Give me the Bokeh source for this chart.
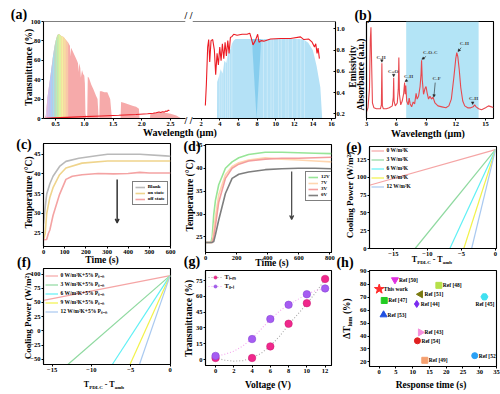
import math
from bokeh.plotting import figure
from bokeh.models import (Range1d, Label, Legend, LegendItem, Span, Arrow, VeeHead,
                          NormalHead, PrintfTickFormatter, ColumnDataSource, Div)
from bokeh.layouts import row, column
from bokeh.embed import file_html
from bokeh.resources import INLINE
from bokeh.core.properties import value

FONT = "Liberation Serif"

# ======================= DATA =======================
solar_wl = [0.30, 0.33, 0.36, 0.39, 0.42, 0.45, 0.48, 0.50, 0.53, 0.56, 0.60, 0.64, 0.68, 0.72, 0.75,
            0.76, 0.77, 0.80, 0.84, 0.87, 0.89, 0.90, 0.91, 0.93, 0.94, 0.96, 0.98, 1.00, 1.01, 1.02,
            1.04, 1.05, 1.06, 1.08, 1.12, 1.16, 1.20, 1.23, 1.25, 1.26, 1.27, 1.30, 1.35, 1.40, 1.45,
            1.48, 1.63, 1.64, 1.70, 1.75, 1.80, 1.85, 1.90, 1.95, 1.96, 2.14, 2.15, 2.20, 2.30, 2.40,
            2.50, 2.60, 2.69]
solar_t = [0, 3, 22, 35, 48, 62, 74, 80, 86, 87, 85, 84, 81, 78, 75,
           64, 73, 69, 64, 60, 57, 48, 57, 52, 42, 50, 46, 44, 36, 5,
           0, 0, 43, 42, 35, 30, 24, 20, 0, 0, 28, 28, 27, 27, 20,
           0, 0, 17, 16, 15, 14, 13, 12, 10, 0, 0, 5, 6, 6, 6,
           5, 3, 0]
rainbow_edges = [0.33, 0.36, 0.39, 0.42, 0.45, 0.48, 0.50, 0.53, 0.56, 0.60, 0.64, 0.68, 0.72]
film_wl = [0.33, 0.45, 0.70, 1.00, 1.30, 1.60, 1.90, 2.10, 2.20, 2.25, 2.30, 2.33, 2.36, 2.39, 2.42, 2.44, 2.46, 2.48]
film_t = [0.3, 0.6, 1.2, 1.9, 2.6, 3.3, 4.2, 4.9, 5.4, 5.9, 6.8, 6.2, 7.0, 6.6, 7.8, 7.2, 8.6, 8.2]

atm_wl = [3.70, 3.72, 3.90, 4.10, 4.30, 4.50, 4.70, 4.90, 5.10, 5.30, 5.50, 5.70, 7.30, 9.00, 12.50,
          13.00, 13.50, 14.00, 14.40, 14.80, 15.00]
atm_e = [0.157, 0.50, 0.55, 0.62, 0.58, 0.70, 0.68, 0.78, 0.80, 0.86, 0.89, 0.905, 0.905, 0.905, 0.905,
         0.90, 0.87, 0.80, 0.65, 0.45, 0.157]
atm_v_wl = [7.45, 7.95, 8.45]
atm_v_low = [0.905, 0.157, 0.905]
atm_v_high = [0.905, 0.905, 0.905]
atm_gap_wl = [3.95, 4.15, 4.35, 4.62, 4.85, 5.05, 5.30, 8.70, 9.10, 9.50, 9.75, 10.30, 10.60,
              11.10, 11.35, 11.80, 12.30, 12.70, 13.10]
emis_wl = [2.45, 2.56, 2.70, 2.81, 2.92, 3.06, 3.24, 3.42, 3.56, 3.71, 3.85, 4.00, 4.14, 4.28, 4.43,
           4.57, 4.71, 4.86, 5.00, 5.14, 5.32, 5.50, 5.86, 6.40, 6.93, 7.22, 7.36, 7.57, 7.82, 8.07,
           8.21, 8.44, 8.73, 9.45, 10.52, 11.60, 12.67, 13.03, 13.56, 13.92, 14.17, 14.31, 14.45, 14.56, 14.70]
emis_e = [0.28, 0.48, 0.83, 0.90, 0.69, 0.89, 0.90, 0.80, 0.57, 0.77, 0.66, 0.83, 0.70, 0.86, 0.72,
          0.875, 0.745, 0.89, 0.77, 0.92, 0.93, 0.95, 0.94, 0.95, 0.95, 0.96, 0.92, 0.85, 0.89, 0.95,
          0.875, 0.89, 0.885, 0.905, 0.91, 0.91, 0.925, 0.90, 0.905, 0.875, 0.83, 0.86, 0.77, 0.82, 0.72]

ftir_wl = [3.00, 3.15, 3.30, 3.38, 3.45, 3.52, 3.60, 3.75, 4.00, 4.40, 4.50, 4.55, 4.60, 4.70, 5.00,
           5.30, 5.60, 5.70, 5.74, 5.78, 5.90, 6.10, 6.20, 6.26, 6.32, 6.45, 6.60, 6.75, 6.84, 6.90,
           6.96, 7.05, 7.20, 7.30, 7.40, 7.55, 7.70, 7.85, 8.00, 8.10, 8.25, 8.40, 8.50, 8.55, 8.62,
           8.75, 8.90, 9.00, 9.10, 9.25, 9.40, 9.55, 9.70, 9.90, 10.20, 10.60, 11.00, 11.30, 11.55, 11.80,
           12.00, 12.10, 12.20, 12.35, 12.50, 12.70, 12.90, 13.20, 13.50, 13.75, 13.90, 14.05, 14.30, 14.60, 15.00,
           15.30, 15.60, 15.80]
ftir_abs = [0.07, 0.11, 0.30, 0.80, 0.94, 0.55, 0.16, 0.11, 0.10, 0.10, 0.14, 0.57, 0.13, 0.10, 0.10,
            0.11, 0.13, 0.22, 0.42, 0.18, 0.13, 0.16, 0.30, 0.63, 0.25, 0.14, 0.18, 0.26, 0.37, 0.25,
            0.34, 0.18, 0.14, 0.21, 0.15, 0.12, 0.17, 0.15, 0.26, 0.20, 0.23, 0.33, 0.46, 0.60, 0.40,
            0.25, 0.31, 0.33, 0.27, 0.20, 0.23, 0.20, 0.22, 0.16, 0.13, 0.12, 0.11, 0.13, 0.20, 0.42,
            0.62, 0.68, 0.64, 0.50, 0.32, 0.18, 0.13, 0.11, 0.11, 0.12, 0.14, 0.12, 0.10, 0.09, 0.11,
            0.13, 0.12, 0.11]
window_band = [7.0, 14.3]
bond_text = ["C-H", "C=O", "C-H", "C-O-C", "C-F", "C-H", "C-H"]
bond_label_x = [4.46, 5.69, 7.23, 9.43, 10.06, 12.86, 13.78]
bond_label_y = [0.63, 0.488, 0.433, 0.68, 0.41, 0.77, 0.21]
bond_peak_x = [4.55, 5.74, 6.88, 8.58, 9.79, 12.22, 13.70]
bond_peak_y = [0.58, 0.43, 0.38, 0.61, 0.22, 0.69, 0.145]

c_t_blank = [0, 8, 15, 30, 45, 76, 106, 167, 258, 303, 455, 576, 600]
c_blank = [27.3, 31.5, 34.8, 37.5, 39.4, 41.9, 43.2, 44.0, 44.7, 45.0, 45.0, 44.6, 44.5]
c_t_on = [0, 8, 15, 30, 45, 76, 106, 182, 303, 455, 600]
c_on = [23.2, 24.8, 29.8, 34.0, 36.5, 39.8, 41.5, 42.75, 43.3, 43.3, 43.3]
c_t_off = [0, 15, 23, 30, 45, 76, 106, 136, 182, 258, 330, 400, 455, 500, 600]
c_off = [23.2, 23.3, 24.8, 25.7, 29.4, 34.8, 38.6, 39.4, 39.8, 40.1, 40.0, 40.1, 40.4, 40.25, 40.25]
c_arrow = [348, 38.6, 27.5]

d_time = [0, 35, 43, 53, 64, 85, 128, 171, 214, 277, 384, 490, 597, 704, 810]
d_12v = [23.8, 23.8, 25.0, 29.9, 33.0, 36.4, 40.0, 41.4, 42.3, 43.0, 43.5, 43.5, 43.4, 43.3, 43.2]
d_7v = [23.8, 23.8, 23.8, 26.5, 29.5, 34.2, 38.6, 40.4, 41.2, 41.8, 42.3, 42.0, 41.8, 41.6, 41.4]
d_3v = [23.8, 23.8, 23.8, 25.0, 27.5, 32.6, 37.8, 40.0, 40.9, 41.6, 42.0, 42.2, 42.2, 42.3, 42.4]
d_0v = [23.8, 23.8, 23.8, 24.0, 25.5, 28.7, 34.5, 37.8, 38.7, 39.2, 39.7, 39.9, 40.0, 40.0, 39.9]
d_arrow = [554, 39.3, 28.8]

e_labels = ["0 W/m²K", "3 W/m²K", "6 W/m²K", "9 W/m²K", "12 W/m²K"]
e_x_start = [-18.5, -11.8, -6.7, -4.65, -3.5]
e_y_start = [89, 0, 0, 0, 0]
e_x_end = [0, 0, 0, 0, 0]
e_y_end = [139, 139, 139, 139, 139]

f_labels = ["0 W/m²K+5% Pₛᵤₙ", "3 W/m²K+5% Pₛᵤₙ", "6 W/m²K+5% Pₛᵤₙ", "9 W/m²K+5% Pₛᵤₙ", "12 W/m²K+5% Pₛᵤₙ"]
f_x_start = [-16.1, -13.0, -7.35, -5.1, -3.9]
f_y_start = [53.7, -59.3, -59.3, -59.3, -59.3]
f_x_end = [0, 0, 0, 0, 0]
f_y_end = [97.3, 97.3, 97.3, 97.3, 97.3]

voltage = [0, 4, 6, 8, 10, 12]
t_lum = [1.5, 1.5, 12.5, 34.0, 53.5, 76.5]
t_sol = [3.5, 19.5, 38.5, 52.0, 62.0, 67.5]
fit_v = [0, 1, 2, 3, 4, 5, 6, 7, 8, 9, 10, 11, 12]
fit_lum = [1.5, -0.5, -1.5, -1.0, 1.5, 6.0, 13.0, 22.0, 33.0, 43.0, 53.0, 64.0, 76.0]
fit_sol = [3.0, 5.0, 8.0, 13.0, 20.0, 29.0, 38.0, 46.0, 52.0, 57.0, 62.0, 65.5, 67.5]

h_names = ["This work", "Ref [50]", "Ref [48]", "Ref [51]", "Ref [47]", "Ref [45]",
           "Ref [44]", "Ref [53]", "Ref [43]", "Ref [54]", "Ref [52]", "Ref [49]"]
h_time = [0.0, 4.7, 17.8, 12.3, 1.5, 31.4, 11.2, 1.3, 12.3, 11.4, 28.5, 13.6]
h_dtlum = [76.3, 83.5, 79.2, 72.3, 67.5, 70.3, 64.8, 56.4, 42.8, 36.3, 24.8, 21.2]

# ======================= STYLE =======================
RAINBOW = ["#dccaf0", "#cdbff2", "#bcc6f4", "#aacff5", "#a6ddee", "#a9e7d6",
           "#b6ecbc", "#c8f0a8", "#def2a0", "#f3f0a0", "#f8dca2", "#f9c8a8"]
h_marker = ["star", "inverted_triangle", "square", "triangle", "square", "hex",
            "diamond", "triangle", "triangle", "circle", "circle", "square"]
h_angle = [0, 0, 0, math.pi / 2, 0, 0, 0, 0, -math.pi / 2, 0, 0, 0]
h_color = ["#ff2a2a", "#e030e0", "#b6e04a", "#7a7a10", "#22cc22", "#40e0f0",
           "#7a2af0", "#2050e0", "#f590dc", "#e02020", "#2aa0f5", "#f5a070"]
h_size = [10, 7, 6, 7, 6, 7, 7, 7, 7, 6, 6, 6]
h_dx = [4.5, 4, 4, 4, 4, -9, 4, 4, 4, 4, 4, 4]
h_dy = [0, 0, 0, 0, 0, 7, 0, 0, 0, 0, 0, 0]
E_COLORS = ["#f5a5a5", "#8fd9a0", "#5ff0f5", "#f2f24a", "#a9c9f0"]

DIVS = []


def make_panel(canvas, frame, xr, yr, yloc="left", outline=True):
    cx0, cy0, cx1, cy1 = canvas
    fx0, fy0, fx1, fy1 = frame
    W, H = int(cx1 - cx0), int(cy1 - cy0)
    p = figure(width=W, height=H, x_range=Range1d(*xr), y_range=Range1d(*yr),
               output_backend="svg", toolbar_location=None,
               min_border_left=int(round(fx0 - cx0)), min_border_right=int(round(cx1 - fx1)),
               min_border_top=int(round(fy0 - cy0)), min_border_bottom=int(round(cy1 - fy1)),
               y_axis_location=yloc)
    p.xgrid.visible = False
    p.ygrid.visible = False
    p.outline_line_color = "black" if outline else None
    p.outline_line_width = 1.1
    p.background_fill_color = "white"
    p.border_fill_color = "white"
    for ax in p.axis:
        ax.major_label_text_font = FONT
        ax.major_label_text_font_size = "6.5px"
        ax.major_label_text_font_style = "bold"
        ax.major_label_text_color = "black"
        ax.axis_line_color = "black"
        ax.axis_line_width = 1.1
        ax.major_tick_line_color = "black"
        ax.major_tick_line_width = 1
        ax.major_tick_out = 2
        ax.major_tick_in = 0
        ax.minor_tick_line_color = None
        ax.major_label_standoff = 1
    return p, dict(p=p, canvas=canvas, frame=frame)


def add_legend(pan, items, left, top, row_px, font_px, glyph_w, standoff, padding, border):
    fx0, fy0, fx1, fy1 = pan["frame"]
    n = len(items)
    height = n * row_px + 2 * padding
    lg = Legend(items=items, location=(left - fx0, (fy1 - top) - height), orientation="vertical",
                label_text_font=FONT, label_text_font_size="%.1fpx" % font_px,
                label_text_font_style="bold", label_text_color="black",
                glyph_width=glyph_w, glyph_height=row_px, label_height=row_px, label_width=0,
                spacing=0, padding=padding, margin=0, label_standoff=standoff,
                border_line_color="black" if border else None, border_line_width=0.8,
                background_fill_color="white", background_fill_alpha=1.0 if border else 0.0)
    pan["p"].add_layout(lg)


def page_text(html, cx, cy, size, w, rotate=False):
    h = int(size * 1.8)
    st = {"position": "absolute", "left": "%.1fpx" % (cx - w / 2.0),
          "top": "%.1fpx" % (cy - h / 2.0), "font-family": "'Liberation Serif', serif",
          "font-weight": "bold", "font-size": "%.1fpx" % size,
          "line-height": "%dpx" % h, "text-align": "center",
          "white-space": "nowrap", "color": "black", "z-index": "5",
          "pointer-events": "none", "overflow": "visible"}
    if rotate:
        st["transform"] = "rotate(-90deg)"
    DIVS.append(Div(text=html, width=w, height=h, margin=0, styles=st))


# ---- (a) left ----
aL, paL = make_panel((0, 0, 188, 138), (43, 16, 185, 121), (0.29, 2.76), (0, 100), outline=False)
aL.varea(x=solar_wl, y1=0, y2=solar_t, fill_color="#f6aaaa")
for i in range(len(rainbow_edges) - 1):
    lo, hi = rainbow_edges[i] - 1e-9, rainbow_edges[i + 1] + 1e-9
    xs = [w for w in solar_wl if lo <= w <= hi]
    ys = [t for w, t in zip(solar_wl, solar_t) if lo <= w <= hi]
    aL.varea(x=xs, y1=0, y2=ys, fill_color=RAINBOW[i])
aL.line(film_wl, film_t, line_color="#ec1c24", line_width=1.1)
aL.add_layout(Span(location=100, dimension="width", line_color="black", line_width=1.1))
aL.xaxis.ticker = [0.5, 1.0, 1.5, 2.0, 2.5]
aL.xaxis.formatter = PrintfTickFormatter(format="%.1f")
aL.yaxis.ticker = [0, 20, 40, 60, 80, 100]

# ---- (a) right ----
aR, paR = make_panel((188, 0, 358, 138), (192, 16, 335, 121), (1.07, 16.43), (0.157, 1.07),
                     yloc="right", outline=False)
aR.varea(x=atm_wl, y1=0, y2=atm_e, fill_color="#b4e1f6")
aR.varea(x=atm_v_wl, y1=atm_v_low, y2=atm_v_high, fill_color="#86cdee")
aR.segment(x0=atm_gap_wl, y0=0.157, x1=atm_gap_wl, y1=0.905, line_color="white",
           line_alpha=0.4, line_width=0.8)
aR.line(emis_wl, emis_e, line_color="#ec1c24", line_width=1.1)
aR.add_layout(Span(location=1.07, dimension="width", line_color="black", line_width=1.1))
aR.xaxis.ticker = [2, 4, 6, 8, 10, 12, 14, 16]
aR.yaxis.ticker = [0.2, 0.4, 0.6, 0.8, 1.0]
aR.yaxis.formatter = PrintfTickFormatter(format="%.1f")
aR.yaxis.major_tick_in = 2
aR.yaxis.major_tick_out = 0

# ---- (b) ----
b, pb = make_panel((358, 0, 500, 138), (366, 21, 493, 118), (3.0, 15.8), (0, 1))
b.varea(x=window_band, y1=0, y2=1, fill_color="#b3e4f6")
b.line(ftir_wl, ftir_abs, line_color="#e8484e", line_width=1.1)
b.xaxis.ticker = [3, 6, 9, 12, 15]
b.yaxis.ticker = []
b.yaxis.major_tick_out = 0
b.yaxis.major_label_standoff = 0
for t, lx, ly, px_, py_ in zip(bond_text, bond_label_x, bond_label_y, bond_peak_x, bond_peak_y):
    b.add_layout(Label(x=lx, y=ly, text=t, text_font=FONT, text_font_size="5px",
                       text_font_style="bold", text_align="center", text_baseline="middle"))
    b.add_layout(Arrow(end=NormalHead(size=2.5, fill_color="#222", line_color="#222", line_width=0.5),
                       x_start=(lx + px_) / 2 if abs(lx - px_) > 0.2 else px_,
                       y_start=ly - 0.04, x_end=px_, y_end=py_,
                       line_color="#222", line_width=0.6))

# ---- (c) ----
c, pc = make_panel((0, 138, 177, 266), (43, 143, 170, 246), (0, 600), (21.5, 47.75))
r_blank = c.line(c_t_blank, c_blank, line_color="#b9b9b9", line_width=1.6)
r_on = c.line(c_t_on, c_on, line_color="#efd48c", line_width=1.6)
r_off = c.line(c_t_off, c_off, line_color="#f4a3a3", line_width=1.6)
c.xaxis.ticker = [0, 100, 200, 300, 400, 500, 600]
c.yaxis.ticker = [25, 30, 35, 40, 45]
c.add_layout(Arrow(end=VeeHead(size=4, line_color="#333", line_width=1.2),
                   x_start=c_arrow[0], y_start=c_arrow[1], x_end=c_arrow[0], y_end=c_arrow[2],
                   line_color="#333", line_width=1.5))

# ---- (d) ----
d, pd = make_panel((177, 138, 340, 268), (205, 144, 331, 252), (0, 810), (21.6, 45.2))
r12 = d.line(d_time, d_12v, line_color="#97e597", line_width=1.6)
r7 = d.line(d_time, d_7v, line_color="#ffd6b0", line_width=1.6)
r3 = d.line(d_time, d_3v, line_color="#f49d9d", line_width=1.6)
r0 = d.line(d_time, d_0v, line_color="#7e7e7e", line_width=1.6)
d.xaxis.ticker = [0, 200, 400, 600, 800]
d.yaxis.ticker = [25, 30, 35, 40, 45]
d.add_layout(Arrow(end=VeeHead(size=4, line_color="#444", line_width=1.2),
                   x_start=d_arrow[0], y_start=d_arrow[1], x_end=d_arrow[0], y_end=d_arrow[2],
                   line_color="#444", line_width=1.2))

# ---- (e) ----
e, pe = make_panel((340, 138, 500, 267), (369, 146, 496, 248), (-18.5, 0.15), (0, 143.5))
e_r = []
for i in range(5):
    e_r.append(e.line([e_x_start[i], e_x_end[i]], [e_y_start[i], e_y_end[i]],
                      line_color=E_COLORS[i], line_width=1.2))
e.xaxis.ticker = [-15, -10, -5, 0]
e.yaxis.ticker = [0, 25, 50, 75, 100, 125]

# ---- (f) ----
f, pf = make_panel((0, 266, 177, 394), (43, 268, 171, 364), (-16.1, 0.05), (-59.3, 109.8))
f_r = []
for i in range(5):
    f_r.append(f.line([f_x_start[i], f_x_end[i]], [f_y_start[i], f_y_end[i]],
                      line_color=E_COLORS[i], line_width=1.2))
f.xaxis.ticker = [-15, -10, -5, 0]
f.yaxis.ticker = [-50, -25, 0, 25, 50, 75, 100]

# ---- (g) ----
g, pg = make_panel((177, 268, 340, 394), (205, 270, 333, 365), (-1.1, 12.7), (-5.6, 84.5))
gl1 = g.line(fit_v, fit_lum, line_color="#a8a8a8", line_width=1.1, line_dash="1 2")
gl2 = g.line(fit_v, fit_sol, line_color="#f4a6ee", line_width=1.1, line_dash="1 2")
gs1 = g.scatter(voltage, t_lum, size=7.5, fill_color="#f0288c", line_color="#c81870", line_width=0.5)
gs2 = g.scatter(voltage, t_sol, size=7.5, fill_color="#a65cf2", line_color="#8040d0", line_width=0.5)
g.xaxis.ticker = [0, 2, 4, 6, 8, 10, 12]
g.yaxis.ticker = [0, 15, 30, 45, 60, 75]

# ---- (h) ----
h, ph = make_panel((340, 267, 500, 394), (365, 270, 497, 366), (-2.9, 35), (16.4, 90.7))
h_src = ColumnDataSource(dict(x=h_time, y=h_dtlum, name=h_names, marker=h_marker, color=h_color,
                              angle=h_angle, size=h_size, dx=h_dx, dy=h_dy))
h.scatter(x="x", y="y", marker="marker", size="size", fill_color="color", line_color="color",
          angle="angle", source=h_src)
h.text(x="x", y="y", text="name", x_offset="dx", y_offset="dy", source=h_src,
       text_font=value(FONT), text_font_size=value("5.5px"), text_font_style="bold",
       text_baseline="middle", text_align="left", text_color="black")
h.xaxis.ticker = [0, 5, 10, 15, 20, 25, 30, 35]
h.yaxis.ticker = [20, 30, 40, 50, 60, 70, 80, 90]

# ---- legends ----
add_legend(pc, [LegendItem(label="Blank", renderers=[r_blank]),
                LegendItem(label="on state", renderers=[r_on]),
                LegendItem(label="off state", renderers=[r_off])],
           131.7, 182.7, 6, 5.0, 10, 3, 2, True)
add_legend(pd, [LegendItem(label="12V", renderers=[r12]),
                LegendItem(label="7V", renderers=[r7]),
                LegendItem(label="3V", renderers=[r3]),
                LegendItem(label="0V", renderers=[r0])],
           305, 172.7, 6, 5.0, 10, 3, 2, True)
add_legend(pe, [LegendItem(label=e_labels[i], renderers=[e_r[i]]) for i in range(5)],
           370.5, 145.5, 9, 5.5, 13, 3, 0, False)
add_legend(pf, [LegendItem(label=f_labels[i], renderers=[f_r[i]]) for i in range(5)],
           44.5, 270.5, 9, 5.5, 13, 3, 0, False)
add_legend(pg, [LegendItem(label="Tₗᵤₘ", renderers=[gl1, gs1]),
                LegendItem(label="Tₛₒₗ", renderers=[gl2, gs2])],
           207.5, 274, 8, 6.5, 14, 3, 0, False)

# ---- texts outside the frames (panel tags, axis titles) ----
PANEL_TAGS = [("(a)", 19, 14.5), ("(b)", 363, 15.5), ("(c)", 24, 144), ("(d)", 192, 146),
              ("(e)", 354, 147), ("(f)", 24, 262), ("(g)", 192, 261), ("(h)", 345, 262)]
for t, x, y in PANEL_TAGS:
    page_text(t, x, y, 14, 30)

SUB = '<span style="font-size:%spx;vertical-align:-2px">%s</span>'
AXIS_TITLES = [
    ("Transmittance (%)", 29, 67, 9.5, True),
    ("Wavelength (µm)", 180, 133, 10, False),
    ("Emissivity", 353.3, 66, 9.5, True),
    ("Absorbance (a.u.)", 360.5, 74, 9.5, True),
    ("Wavelength (µm)", 428, 133.5, 10, False),
    ("Temperature (°C)", 28.5, 192, 9.5, True),
    ("Time (s)", 102, 260, 9.5, False),
    ("Temperature (°C)", 190, 195, 9.5, True),
    ("Time (s)", 272, 263, 9.5, False),
    ("Cooling Power (W/m²)", 350, 195, 9, True),
    ("Cooling Power (W/m²)", 27.5, 316, 9, True),
    ("Transmittance (%)", 189, 318, 9.5, True),
    ("ΔT" + SUB % (6, "lum") + " (%)", 346.5, 318, 9.5, True),
    ("Voltage (V)", 268, 385, 9.5, False),
    ("Response time (s)", 431, 385, 9.5, False),
]
for t, x, y, s, rot in AXIS_TITLES:
    page_text(t, x, y, s, 110, rotate=rot)

TPDLC = "T" + SUB % (5, "PDLC") + " - T" + SUB % (5, "amb")
page_text(TPDLC, 432, 260, 8, 60)
page_text(TPDLC, 104, 385, 8, 60)
page_text("/ /", 188.5, 16, 10, 20)
page_text("/ /", 188.5, 121, 10, 20)

grid = column(row(aL, aR, b), row(column(c, f), column(d, g), column(e, h)))
root = column(grid, *DIVS, styles={"position": "relative"})
open("out.html", "w").write(file_html(root, INLINE, title="figure"))
